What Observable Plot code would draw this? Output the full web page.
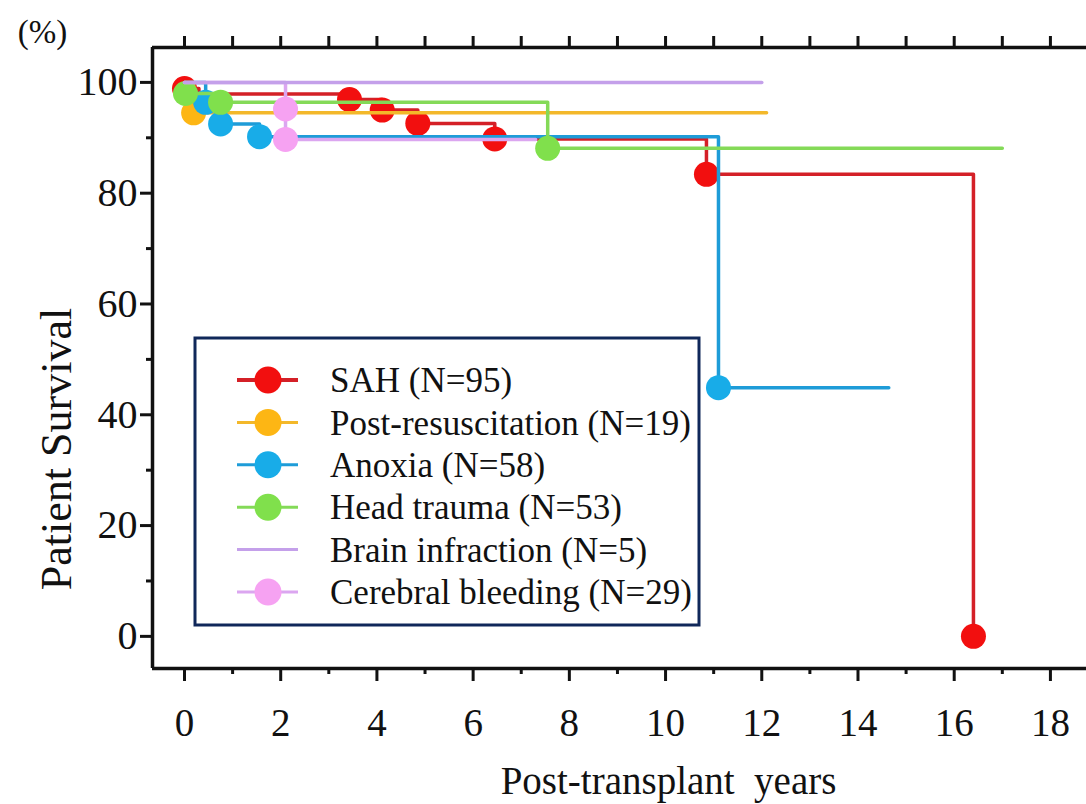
<!DOCTYPE html>
<html>
<head>
<meta charset="utf-8">
<script src="https://cdn.jsdelivr.net/npm/d3@7"></script>
<script src="https://cdn.jsdelivr.net/npm/@observablehq/plot@0.6"></script>
<style>
  html, body { margin: 0; padding: 0; background: #fff; }
  #chart svg { display: block; }
  #chart svg text { font-family: 'Liberation Serif', 'Times New Roman', serif !important; font-variant-numeric: normal; }
  #chart [aria-label="x-axis tick"] path, #chart [aria-label="y-axis tick"] path { stroke-width: 3px; }
</style>
</head>
<body>
<div id="chart"></div>
<script>
// ---------- data ----------
const categories = [
  "SAH (N=95)",
  "Post-resuscitation (N=19)",
  "Anoxia (N=58)",
  "Head trauma (N=53)",
  "Brain infraction (N=5)",
  "Cerebral bleeding (N=29)"
];
const lineColors = ["#d42027", "#f3b82a", "#1e9cd8", "#84da58", "#c4a0ea", "#dba6f0"];
const dotColors  = ["#f20f0f", "#fdb614", "#18ace8", "#80e04c", null, "#f6a2f2"];

// Kaplan-Meier steps: years, survival (%), 1 = marked with a dot
const sahYears  = [0, 0, 0.3, 3.43, 4.11, 4.85, 6.45, 10.85, 16.4];
const sahSurv   = [100, 98.9, 97.9, 96.9, 95.0, 92.6, 89.8, 83.4, 0];
const sahDot    = [0, 1, 0, 1, 1, 1, 1, 1, 1];

const resusYears = [0, 0.19, 12.1];
const resusSurv  = [100, 94.5, 94.5];
const resusDot   = [0, 1, 0];

const anoxiaYears = [0, 0.44, 0.75, 1.56, 11.1, 11.1, 14.64];
const anoxiaSurv  = [100, 96.4, 92.5, 90.2, 90.2, 44.9, 44.9];
const anoxiaDot   = [0, 1, 1, 1, 0, 1, 0];

const traumaYears = [0, 0.02, 0.75, 7.55, 17.0];
const traumaSurv  = [100, 98.0, 96.4, 88.1, 88.1];
const traumaDot   = [0, 1, 1, 1, 0];

const infarctYears = [0, 12.0];
const infarctSurv  = [100, 100];
const infarctDot   = [0, 0];

const bleedYears = [0, 2.1, 2.1, 7.3];
const bleedSurv  = [100, 95.2, 89.7, 89.7];
const bleedDot   = [0, 1, 1, 0];

const xTicksMajor = [0, 2, 4, 6, 8, 10, 12, 14, 16, 18];
const xTicksMinor = [1, 3, 5, 7, 9, 11, 13, 15, 17];
const xTicksTop   = [0, 1, 2, 3, 4, 5, 6, 7, 8, 9, 10, 11, 12, 13, 14, 15, 16, 17, 18];
const yTicksMajor = [0, 20, 40, 60, 80, 100];
const yTicksMinor = [10, 30, 50, 70, 90];
const xDomain = [-0.665, 18.75];
const yDomain = [-5.8, 106.3];

// ---------- build table ----------
const seriesArrays = [
  [sahYears, sahSurv, sahDot],
  [resusYears, resusSurv, resusDot],
  [anoxiaYears, anoxiaSurv, anoxiaDot],
  [traumaYears, traumaSurv, traumaDot],
  [infarctYears, infarctSurv, infarctDot],
  [bleedYears, bleedSurv, bleedDot]
];
const rows = [];
seriesArrays.forEach(([t, s, d], k) => {
  t.forEach((v, i) => rows.push({series: categories[k], k, t: v, s: s[i], dot: d[i] === 1}));
});

// drawing order (bottom to top)
const order = [0, 1, 2, 3, 5, 4];
const curveMarks = [];
for (const k of order) {
  const data = rows.filter(r => r.k === k);
  curveMarks.push(Plot.line(data, {x: "t", y: "s", stroke: lineColors[k], strokeWidth: 3.5, curve: "step-after"}));
  if (dotColors[k]) {
    curveMarks.push(Plot.dot(data.filter(r => r.dot), {x: "t", y: "s", r: 12.5, fill: dotColors[k], stroke: "none"}));
  }
}

const serif = "'Liberation Serif', 'Times New Roman', serif";

const chart = Plot.plot({
  width: 1086,
  height: 804,
  marginLeft: 152,
  marginRight: 0,
  marginTop: 47,
  marginBottom: 136,
  style: {fontFamily: serif, background: "#fff", color: "#111", overflow: "visible"},
  x: {domain: xDomain},
  y: {domain: yDomain},
  marks: [
    ...curveMarks,
    Plot.ruleX([xDomain[0]], {stroke: "#111", strokeWidth: 3.5}),
    Plot.ruleY([yDomain[0]], {stroke: "#111", strokeWidth: 3.5}),
    Plot.ruleY([yDomain[1]], {stroke: "#111", strokeWidth: 3.5}),
    Plot.axisX({ticks: xTicksMajor, tickSize: 13, tickPadding: 27, fontSize: 39, label: null}),
    Plot.axisX({ticks: xTicksMinor, tickSize: 6, tickFormat: () => "", label: null}),
    Plot.axisX({anchor: "top", ticks: xTicksTop, tickSize: 12, tickFormat: () => "", label: null}),
    Plot.axisY({ticks: yTicksMajor, tickSize: 12, tickPadding: 3, fontSize: 40, label: null}),
    Plot.axisY({ticks: yTicksMinor, tickSize: 6, tickFormat: () => "", label: null}),
    Plot.text(["(%)"], {frameAnchor: "top-left", dx: -110, dy: -15, fontSize: 33, textAnchor: "middle", lineAnchor: "middle", fill: "#111"}),
    Plot.text(["Patient Survival"], {frameAnchor: "left", rotate: -90, dx: -96, dy: 91, fontSize: 44, textAnchor: "middle", lineAnchor: "middle", fill: "#111"}),
    Plot.text(["Post-transplant\u00a0\u00a0years"], {frameAnchor: "bottom", dx: 49, dy: 113, fontSize: 39, textAnchor: "middle", lineAnchor: "middle", fill: "#111"})
  ]
});

document.getElementById("chart").appendChild(chart);

// ---------- legend (inside the plot area, boxed) ----------
const svg = d3.select(chart);
const lg = svg.append("g").attr("class", "legend").attr("text-anchor", "start");
lg.append("rect")
  .attr("x", 195).attr("y", 338).attr("width", 504).attr("height", 287)
  .attr("fill", "#fff").attr("stroke", "#10285a").attr("stroke-width", 3);
categories.forEach((name, i) => {
  const cy = 380 + i * 42.4;
  const row = lg.append("g");
  row.append("line")
    .attr("x1", 237).attr("x2", 298).attr("y1", cy).attr("y2", cy)
    .attr("stroke", lineColors[i]).attr("stroke-width", i === 0 ? 4 : 3);
  if (dotColors[i]) {
    row.append("circle").attr("cx", 268).attr("cy", cy).attr("r", 13.5).attr("fill", dotColors[i]);
  }
  row.append("text")
    .attr("x", 330).attr("y", cy).attr("dy", "0.35em")
    .attr("text-anchor", "start")
    .attr("font-family", serif).attr("font-size", 35).attr("fill", "#111")
    .text(name);
});
</script>
</body>
</html>
